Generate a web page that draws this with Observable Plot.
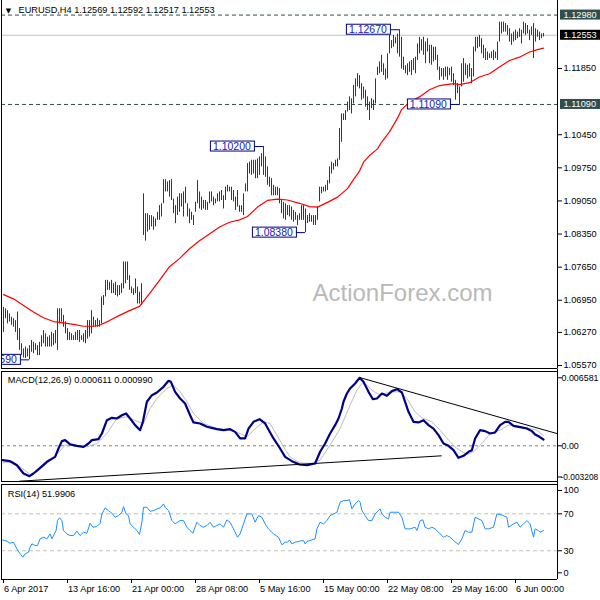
<!DOCTYPE html>
<html><head><meta charset="utf-8">
<script src="https://cdn.jsdelivr.net/npm/d3@7"></script>
<script src="https://cdn.jsdelivr.net/npm/@observablehq/plot@0.6"></script>
<style>
body{margin:0;background:#fff;}
#chart{width:600px;height:600px;position:relative;overflow:hidden;background:#fff;}
#chart svg{display:block;}
</style></head>
<body><div id="chart"></div>
<script>
// ---------- DATA ----------
const symbolTitle = "EURUSD,H4 1.12569 1.12592 1.12517 1.12553";
const barHigh = [
1.0680,1.0677,1.0673,1.0666,1.0659,1.0656,1.0652,1.0670,1.0635,1.0603,
1.0592,1.0596,1.0592,1.0599,1.0610,1.0606,1.0603,1.0599,1.0606,1.0620,
1.0631,1.0624,1.0617,1.0620,1.0627,1.0624,1.0631,1.0677,1.0677,1.0677,
1.0663,1.0649,1.0635,1.0627,1.0624,1.0620,1.0627,1.0631,1.0631,1.0620,
1.0624,1.0631,1.0652,1.0652,1.0673,1.0659,1.0652,1.0656,1.0652,1.0702,
1.0705,1.0737,1.0737,1.0733,1.0737,1.0730,1.0733,1.0726,1.0726,1.0730,
1.0776,1.0776,1.0776,1.0747,1.0723,1.0719,1.0740,1.0723,1.0712,1.0730,
1.0920,1.0878,1.0878,1.0874,1.0874,1.0871,1.0867,1.0881,1.0895,1.0899,
1.0950,1.0950,1.0945,1.0948,1.0950,1.0909,1.0895,1.0913,1.0920,1.0920,
1.0924,1.0934,1.0899,1.0888,1.0881,1.0874,1.0902,1.0948,1.0924,1.0913,
1.0906,1.0906,1.0902,1.0924,1.0924,1.0913,1.0909,1.0920,1.0924,1.0927,
1.0916,1.0934,1.0938,1.0934,1.0934,1.0927,1.0913,1.0927,1.0895,1.0895,
1.0920,1.0941,1.0984,1.0987,1.0991,1.0991,1.0991,1.0994,1.0998,1.1005,
1.1020,1.0998,1.0977,1.0955,1.0952,1.0938,1.0934,1.0934,1.0931,1.0906,
1.0902,1.0899,1.0895,1.0895,1.0892,1.0885,1.0881,1.0874,1.0878,1.0895,
1.0895,1.0888,1.0874,1.0878,1.0874,1.0874,1.0874,1.0893,1.0934,1.0934,
1.0934,1.0938,1.0948,1.0977,1.0987,1.0984,1.0991,1.0994,1.1058,1.1089,
1.1089,1.1096,1.1114,1.1125,1.1121,1.1149,1.1163,1.1174,1.1170,1.1153,
1.1146,1.1139,1.1125,1.1114,1.1121,1.1118,1.1163,1.1188,1.1199,1.1213,
1.1195,1.1184,1.1216,1.1255,1.1244,1.1255,1.1251,1.1258,1.1267,1.1251,
1.1209,1.1191,1.1195,1.1199,1.1202,1.1206,1.1209,1.1237,1.1251,1.1246,
1.1251,1.1241,1.1248,1.1234,1.1234,1.1230,1.1230,1.1213,1.1188,1.1185,
1.1185,1.1188,1.1188,1.1185,1.1188,1.1174,1.1160,1.1153,1.1146,1.1195,
1.1206,1.1195,1.1192,1.1195,1.1185,1.1230,1.1251,1.1251,1.1255,1.1248,
1.1234,1.1227,1.1220,1.1216,1.1220,1.1223,1.1220,1.1241,1.1283,1.1283,
1.1283,1.1280,1.1276,1.1269,1.1258,1.1262,1.1266,1.1262,1.1269,1.1266,
1.1283,1.1280,1.1276,1.1266,1.1273,1.1280,1.1269,1.1266,1.1262,1.1258,
1.12592];
const barLow = [
1.0627,1.0656,1.0645,1.0649,1.0642,1.0638,1.0627,1.0610,1.0589,1.0578,
1.0573,1.0572,1.0575,1.0569,1.0585,1.0582,1.0589,1.0578,1.0578,1.0596,
1.0603,1.0596,1.0596,1.0596,1.0596,1.0599,1.0603,1.0589,1.0645,1.0649,
1.0638,1.0624,1.0610,1.0610,1.0610,1.0610,1.0610,1.0610,1.0606,1.0610,
1.0606,1.0603,1.0613,1.0617,1.0624,1.0638,1.0638,1.0638,1.0638,1.0645,
1.0684,1.0702,1.0716,1.0716,1.0709,1.0709,1.0705,1.0702,1.0705,1.0709,
1.0719,1.0730,1.0737,1.0716,1.0709,1.0705,1.0709,1.0687,1.0687,1.0684,
1.0832,1.0820,1.0839,1.0843,1.0850,1.0843,1.0850,1.0864,1.0864,1.0871,
1.0899,1.0924,1.0924,1.0913,1.0906,1.0878,1.0857,1.0874,1.0881,1.0892,
1.0871,1.0899,1.0871,1.0857,1.0864,1.0853,1.0881,1.0899,1.0888,1.0885,
1.0888,1.0885,1.0885,1.0899,1.0903,1.0895,1.0899,1.0903,1.0903,1.0906,
1.0888,1.0906,1.0924,1.0924,1.0906,1.0903,1.0885,1.0892,1.0881,1.0881,
1.0874,1.0924,1.0924,1.0962,1.0959,1.0962,1.0952,1.0952,1.0959,1.0977,
1.0959,1.0955,1.0938,1.0934,1.0916,1.0916,1.0916,1.0916,1.0899,1.0878,
1.0867,1.0864,1.0874,1.0871,1.0864,1.0860,1.0864,1.0853,1.0864,1.0864,
1.0864,1.0838,1.0857,1.0860,1.0860,1.0853,1.0853,1.0864,1.0903,1.0920,
1.0924,1.0924,1.0927,1.0941,1.0962,1.0970,1.0977,1.0977,1.0991,1.1029,
1.1075,1.1075,1.1093,1.1096,1.1089,1.1110,1.1125,1.1146,1.1142,1.1118,
1.1121,1.1103,1.1096,1.1075,1.1100,1.1096,1.1110,1.1170,1.1174,1.1177,
1.1170,1.1160,1.1163,1.1216,1.1227,1.1230,1.1237,1.1216,1.1209,1.1184,
1.1181,1.1174,1.1170,1.1177,1.1170,1.1181,1.1174,1.1202,1.1216,1.1222,
1.1213,1.1195,1.1220,1.1195,1.1192,1.1199,1.1202,1.1181,1.1160,1.1167,
1.1160,1.1167,1.1160,1.1170,1.1156,1.1149,1.1118,1.1132,1.1109,1.1146,
1.1156,1.1170,1.1163,1.1167,1.1153,1.1167,1.1220,1.1227,1.1230,1.1216,
1.1206,1.1202,1.1202,1.1206,1.1206,1.1202,1.1206,1.1202,1.1241,1.1258,
1.1262,1.1262,1.1255,1.1241,1.1234,1.1241,1.1244,1.1248,1.1251,1.1237,
1.1258,1.1255,1.1258,1.1244,1.1255,1.1206,1.1241,1.1251,1.1244,1.1248,
1.12517];

// moving average (red), sampled along the bars
const maIdx = [0,5,10,15,20,25,30,35,40,45,48,53,58,63,68,73,78,83,88,93,98,103,108,113,118,122,127,132,137,142,148,153,157,162,167,172,175,178,180,183,187,189,193,197,199,203,208,213,218,225,228,233,238,243,248,253,258,263,267,270];
const maVal = [1.0707,1.0698,1.0684,1.0670,1.0658,1.0650,1.0647,1.0644,1.0640,1.0640,1.0642,1.0652,1.0663,1.0673,1.0682,1.0709,1.0737,1.0766,1.0783,1.0804,1.0821,1.0835,1.0850,1.0860,1.0865,1.0872,1.0892,1.0906,1.0909,1.0907,1.0900,1.0893,1.0892,1.0902,1.0913,1.0931,1.0950,1.0968,1.0987,1.1001,1.1015,1.1029,1.1051,1.1080,1.1098,1.1114,1.1125,1.1140,1.1149,1.1153,1.1151,1.1155,1.1167,1.1174,1.1188,1.1202,1.1209,1.1220,1.1225,1.1228];

// horizontal levels
const dashedLevels = [1.12980, 1.11090];
const lastPrice = [1.12553];

// price axis labels
const priceTicks = [1.11850, 1.10450, 1.09750, 1.09050, 1.08350, 1.07650, 1.06950, 1.06270, 1.05570];
const priceBoxDark = [1.12980, 1.11090];
const priceBoxBlack = [1.12553];

// swing labels
const annIdx = [198, 130, 151, 228, 13];
const annPrice = [1.12670, 1.10200, 1.08380, 1.11090, 1.05690];
const annText = ["1.12670", "1.10200", "1.08380", "1.11090", "1.05590"];

// MACD(12,26,9)
const macdIdx = [-0.5,3.3,6.7,10,13,15,18.3,21.7,25.8,27.5,29.2,30.8,33.3,36.7,40,42.5,44.2,47.5,49.2,51.7,54.2,56.7,59.2,61.3,63.3,65.8,68.3,69.7,71.7,74.2,76.7,80,82.5,83.7,85.8,88.3,90.8,93.3,95,98.3,101.7,106.7,110,113.3,115.8,118.3,120.8,122.5,125,128,130.8,135,138.3,140.8,144.2,148,151.7,155.8,158.3,160.8,163.3,165.8,167.5,169.2,170,171.7,173.3,175.8,178,180,182.5,184.7,186.7,189.2,191.7,194.2,196.7,199.2,200.8,202.5,205,207.5,210,212.5,215,217.5,220,222.5,225,227.5,230,232.5,234.2,235.8,238.3,240.8,243.3,245.8,248.3,250.8,252.5,255,258.3,261.7,264.2,265.8,268,270];
const macdVal = [-0.00139,-0.00149,-0.00188,-0.00268,-0.00294,-0.00268,-0.00213,-0.00155,-0.00107,-0.00026,
0.00045,0.00055,0.00013,0,-0.0001,0.00022,0.00055,0.00064,0.00119,0.00248,
0.00271,0.00264,0.00296,0.00313,0.00264,0.002,0.00151,0.00232,0.00426,0.0049,
0.00516,0.00571,0.00629,0.00619,0.00522,0.00458,0.00409,0.00296,0.00226,0.00216,
0.00184,0.00161,0.00151,0.00161,0.00135,0.00071,0.00071,0.00167,0.00232,0.00258,
0.00216,0.00071,-0.00026,-0.00107,-0.00149,-0.00181,-0.00188,-0.00171,-0.00058,0.00022,
0.00119,0.002,0.00264,0.00361,0.00426,0.00506,0.00555,0.00603,0.00658,0.00619,
0.00522,0.00451,0.00458,0.00506,0.00484,0.00529,0.00548,0.00516,0.00426,0.00329,
0.00232,0.00226,0.00248,0.002,0.00167,0.00103,0.00022,0,-0.00042,-0.00116,
-0.00097,-0.00058,-0.00042,0.00071,0.00151,0.00142,0.00119,0.00129,0.002,0.00232,
0.00232,0.00193,0.0018,0.00167,0.00142,0.00109,0.00087,0.000611];
const signalIdx = [-0.5,5,8.3,13.3,16.7,21.7,26.7,30.8,35,41.7,46.7,51.7,56.7,61.7,66.7,70,73.3,76.7,81.7,85,88.3,91.7,95,100,106.7,113.3,118.3,121.7,125,130,133.3,136.7,140,143.3,148,153.3,158.3,163.3,168.3,173.3,176.7,179.2,181.7,184.2,188.3,193.3,198.3,201.7,205.8,209.2,214.2,218.3,222.5,226.7,231.7,235,239.2,243.3,248.3,252.5,256.7,261.7,266.7,270];
const signalVal = [-0.00165,-0.00155,-0.00204,-0.00278,-0.00252,-0.00171,-0.00084,0.00006,0.00006,-0.0001,
0.00022,0.00119,0.00264,0.0028,0.00238,0.00216,0.00361,0.00458,0.00555,0.00587,
0.00522,0.00426,0.00313,0.00216,0.00167,0.00151,0.00119,0.00087,0.00151,0.00232,
0.00216,0.00103,-0.0001,-0.00107,-0.00165,-0.00171,-0.00139,0.00006,0.00167,0.00393,
0.00538,0.00603,0.00587,0.00538,0.0049,0.00522,0.00522,0.00458,0.00329,0.00271,
0.00232,0.00151,0.00055,-0.00026,-0.00084,-0.00058,0.00022,0.00119,0.00151,0.002,
0.00193,0.00174,0.00151,0.00099];
// trend lines drawn on the MACD window
const trendX1 = [8, 178];
const trendY1 = [-0.003426, 0.00661];
const trendX2 = [219.1, 277];
const trendY2 = [-0.000968, 0.00117];
const macdLabels = [0.006581, 0];
const macdMinLabel = [-0.003208];

// RSI(14)
const rsiIdx = [-0.5,1.7,3.3,5,6.7,8.3,9.7,10.8,12.5,13.3,14.2,15.8,17,18.3,20,21.7,23.3,24.2,25,26.3,27,28,29.2,30,31.7,33.3,35,36.7,38.3,40,41.7,43.3,44.7,46.7,48.3,49.2,50.8,52.5,54.2,55.8,57.5,59.2,60,61.3,62.5,63.3,65,66.7,68,69.2,70,71.7,73.3,75,76.7,78.3,80,80.8,82.5,84.2,85.8,88.3,90,91.7,93.3,94.7,96.7,98.3,100,101.7,103.3,105,106.7,108.3,110,111.7,113.3,115,117,118.3,120,121.7,124.2,125.8,127.5,129.2,130.8,132.5,135,137.5,139.2,140.8,142,143,144.2,145.8,148,150,150.8,151.7,153.3,155.8,156.7,158.3,160,161.7,163.3,165,166.7,168.3,170,171.7,173,174.2,175.8,177.5,178.3,179.2,180.8,182.5,184.2,185.8,187.5,188.3,189.2,190.8,192.5,193.3,195.8,197.5,199.2,200.8,203.3,205.8,206.7,208.3,209.7,210.8,212.5,214.2,215.8,216.7,218.3,220,221.7,223.3,225,227.5,229.2,230.8,232.5,234.2,235.8,237.5,239.2,240.8,242.5,245,246.7,249.2,251.7,252.5,255,256.7,258.3,260,261.7,263.3,265,265.8,267.5,268.3,270];
const rsiVal = [41.8,40.4,38.2,39.3,32.1,26.7,23.1,26.7,28.5,33.9,
37.5,35.7,35.7,42.9,44.7,42.9,48.3,42.9,46.5,51.9,
62.7,65.6,62.7,51.9,48.3,46.5,46.5,51.2,46.5,50.1,
49.0,59.8,55.5,56.2,59.8,69.9,76.4,73.5,70.6,66.3,
68.1,71.7,77.8,69.9,68.1,59.1,55.5,51.9,47.6,60.9,
77.1,77.1,72.8,73.5,75.3,76.4,80.7,77.1,73.5,62.7,
59.1,62.7,62.7,55.5,51.9,49.0,60.9,57.3,55.5,57.3,
60.9,55.5,57.3,59.1,55.5,63.4,60.9,53.7,44.7,48.3,
59.1,69.9,69.9,60.9,68.1,66.3,59.1,53.7,48.3,44.7,
36.4,39.3,39.3,41.8,37.5,39.3,40.4,41.1,37.5,40.0,
41.1,42.9,53.7,60.9,59.1,62.7,68.1,69.9,71.7,82.5,
84.3,84.3,85.4,75.3,80.7,84.3,82.5,73.5,68.1,62.7,
62.7,69.9,73.5,75.3,69.9,66.3,64.5,71.7,71.7,71.7,
66.3,53.7,53.7,55.5,51.9,62.7,63.4,55.5,53.7,55.5,
53.7,51.9,48.3,44.7,46.5,44.7,41.1,36.8,42.9,51.9,
50.1,50.1,66.3,64.5,62.7,53.7,53.7,55.5,69.9,68.8,
66.3,55.5,59.1,60.9,55.5,59.1,62.7,59.1,44.7,53.7,
51.9,50.1,51.99];
const rsiLevels = [70, 30];

// time axis
const dateIdx = [0, 32, 64, 96, 128, 160, 192, 224, 256];
const dateText = ["6 Apr 2017", "13 Apr 16:00", "21 Apr 00:00", "28 Apr 08:00", "5 May 16:00", "15 May 00:00", "22 May 08:00", "29 May 16:00", "6 Jun 00:00"];

// ---------- LAYOUT / STYLE ----------
const W = 600, ML = 1, MR = 43;
const XD = [-1, 277];
const PD = [1.05507, 1.13288];
const MD = [-0.003455, 0.00719];
const RD = [-1.08, 101.73];
const FONT = "'Liberation Sans', Arial, sans-serif";
const FS = 9.2;
const BAR = "#15405e";
const style = {fontFamily: FONT, fontSize: FS + "px", background: "white", overflow: "visible", color: "black"};

const bars = barHigh.map((h, i) => ({i, hi: h, lo: barLow[i]}));
const zip = (xs, ys) => xs.slice(0, Math.min(xs.length, ys.length)).map((x, k) => ({i: x, v: ys[k]}));
const ma = zip(maIdx, maVal);
const macd = zip(macdIdx, macdVal);
const sig = zip(signalIdx, signalVal);
const rsi = zip(rsiIdx, rsiVal);
const ann = annIdx.map((i, k) => ({i, p: annPrice[k], t: annText[k]}));
const trends = trendX1.map((x, k) => ({x1: x, y1: trendY1[k], x2: trendX2[k], y2: trendY2[k]}));
const dates = dateIdx.map((i, k) => ({i, t: dateText[k]}));
const fmt5 = d => d.toFixed(5);

const rightText = (data, o = {}) => Plot.text(data, {y: d => d, frameAnchor: "right", dx: 6, textAnchor: "start", lineAnchor: "middle", fill: "black", ...o});
const rightTick = (data, o = {}) => Plot.ruleY(data, {y: d => d, x1: XD[1], x2: XD[1] + 2.5, stroke: "black", ...o});

// box colours (used to find the labels that get a background box)
const BOX_DARK_TXT = "#fefefe", BOX_BLACK_TXT = "#fdfdfd", ANN_TXT = "#1a1ab8";

// ---------- PRICE WINDOW ----------
const price = Plot.plot({
  width: W, height: 369, marginLeft: ML, marginRight: MR, marginTop: 0, marginBottom: 1,
  x: {domain: XD, axis: null}, y: {domain: PD, axis: null}, style,
  marks: [
    Plot.ruleY(dashedLevels, {stroke: "#2f4f4f", strokeDasharray: "4,3"}),
    Plot.ruleY(lastPrice, {stroke: "#c0c0c0"}),
    Plot.text(["ActionForex.com"], {frameAnchor: "top-left", dx: 311, dy: 293, textAnchor: "start", lineAnchor: "middle", fontSize: 24, fontFamily: "'Liberation Sans', Arial, sans-serif", fill: "#b9b9b9"}),
    Plot.ruleX(bars, {x: "i", y1: "lo", y2: "hi", stroke: BAR, strokeWidth: 1}),
    Plot.line(ma, {x: "i", y: "v", stroke: "#ff0000", strokeWidth: 1.2}),
    Plot.ruleY(ann, {y: "p", x1: d => d.i - 4.8, x2: "i", stroke: "#000080", clip: "frame"}),
    Plot.text(ann, {x: d => d.i - 4.8, y: "p", text: "t", textAnchor: "end", dx: -3, lineAnchor: "middle", fill: ANN_TXT, fontSize: 10.5, clip: "frame"}),
    Plot.text(["\u25BC"], {frameAnchor: "top-left", dx: 7, dy: 10.5, textAnchor: "middle", lineAnchor: "middle", fontSize: 7, fontFamily: "'DejaVu Sans', sans-serif", fill: "black"}),
    Plot.text([symbolTitle], {frameAnchor: "top-left", dx: 17, dy: 10, textAnchor: "start", lineAnchor: "middle", fill: "black"}),
    Plot.ruleX([XD[0]], {stroke: "black"}),
    Plot.ruleY([PD[0]], {stroke: "black"}),
    Plot.ruleX([XD[1]], {y1: PD[0], y2: PD[1], stroke: "black"}),
    rightTick(priceTicks),
    rightText(priceTicks, {text: fmt5}),
    rightText(priceBoxDark, {text: fmt5, fill: BOX_DARK_TXT}),
    rightText(priceBoxBlack, {text: fmt5, fill: BOX_BLACK_TXT})
  ]
});

// ---------- MACD WINDOW ----------
const mpx = 110 / (MD[1] - MD[0]);
const macdPlot = Plot.plot({
  width: W, height: 113, marginLeft: ML, marginRight: MR, marginTop: 2, marginBottom: 1,
  x: {domain: XD, axis: null}, y: {domain: MD, axis: null}, style,
  marks: [
    Plot.ruleY([0], {stroke: "#808080", strokeDasharray: "3,3"}),
    Plot.line(sig, {x: "i", y: "v", stroke: "#bdbdbd", strokeWidth: 1}),
    Plot.line(macd, {x: "i", y: "v", stroke: "#00008b", strokeWidth: 2.2}),
    Plot.link(trends, {x1: "x1", y1: "y1", x2: "x2", y2: "y2", stroke: "black", strokeWidth: 1, clip: "frame"}),
    Plot.text(["MACD(12,26,9) 0.000611 0.000990"], {frameAnchor: "top-left", dx: 6.3, dy: 8.7, textAnchor: "start", lineAnchor: "middle", fill: "black"}),
    Plot.ruleX([XD[0]], {stroke: "black"}),
    Plot.ruleY([MD[0], MD[1]], {stroke: "black"}),
    Plot.ruleX([XD[1]], {y1: MD[1] + 2.5 / mpx, y2: MD[0] - 1 / mpx, stroke: "black"}),
    rightTick(macdLabels),
    rightText(macdLabels, {text: d => d === 0 ? "0.00" : d.toFixed(6), dx: 4, fontSize: 8.9}),
    rightTick(macdMinLabel, {dy: -2}),
    rightText(macdMinLabel, {text: d => d.toFixed(6), dx: 3, dy: -2, fontSize: 8.4})
  ]
});

// ---------- RSI WINDOW ----------
const rpx = 95 / (RD[1] - RD[0]);
const rsiPlot = Plot.plot({
  width: W, height: 118, marginLeft: ML, marginRight: MR, marginTop: 2, marginBottom: 21,
  x: {domain: XD, axis: null}, y: {domain: RD, axis: null}, style,
  marks: [
    Plot.ruleY(rsiLevels, {stroke: "#c0c0c0", strokeDasharray: "4,3"}),
    Plot.line(rsi, {x: "i", y: "v", stroke: "#1e90ff", strokeWidth: 1}),
    Plot.text(["RSI(14) 51.9906"], {frameAnchor: "top-left", dx: 6.3, dy: 9.3, textAnchor: "start", lineAnchor: "middle", fill: "black"}),
    Plot.ruleX([XD[0]], {stroke: "black"}),
    Plot.ruleY([RD[0], RD[1]], {stroke: "black"}),
    Plot.ruleX([XD[1]], {y1: RD[1] + 2.5 / rpx, y2: RD[0], stroke: "black"}),
    rightTick([100], {dy: 4.4}), rightText([100], {text: d => String(d), dy: 4.4}),
    rightTick(rsiLevels), rightText(rsiLevels, {text: d => String(d)}),
    rightTick([0], {dy: -5.7}), rightText([0], {text: d => String(d), dy: -5.7}),
    Plot.ruleX(dates, {x: "i", y1: RD[0], y2: RD[0] - 4 / rpx, stroke: "black"}),
    Plot.text(dates, {x: "i", text: "t", frameAnchor: "bottom", dy: 9.5, dx: 0.5, textAnchor: "start", lineAnchor: "middle", fill: "black"})
  ]
});

const root = document.getElementById("chart");
for (const s of [price, macdPlot, rsiPlot]) root.appendChild(s);

// boxes behind labelled prices
function boxify(svg) {
  const NS = "http://www.w3.org/2000/svg";
  const specs = [
    {txt: BOX_DARK_TXT, fill: "#2f4f4f", stroke: "none", l: 4, r: 3, white: true},
    {txt: BOX_BLACK_TXT, fill: "#000000", stroke: "none", l: 4, r: 3, white: true},
    {txt: ANN_TXT, fill: "#ffffff", stroke: "#000080", l: 3, r: 3}
  ];
  const texts = svg.querySelectorAll("text");
  texts.forEach(t => {
    const f = (t.getAttribute("fill") || t.parentNode.getAttribute("fill") || "").toLowerCase();
    const s = specs.find(s => s.txt === f);
    if (!s) return;
    const b = t.getBBox();
    const cy = b.y + b.height / 2;
    const r = document.createElementNS(NS, "rect");
    r.setAttribute("x", Math.round(b.x - s.l) + 0.5);
    r.setAttribute("y", Math.round(cy - 5.5) + 0.5);
    r.setAttribute("width", Math.round(b.width + s.l + s.r));
    r.setAttribute("height", 10);
    r.setAttribute("fill", s.fill);
    r.setAttribute("stroke", s.stroke);
    const tr = t.getAttribute("transform");
    if (tr) r.setAttribute("transform", tr);
    t.parentNode.insertBefore(r, t);
  });
}
for (const s of [price, macdPlot, rsiPlot]) boxify(s);
</script>
</body></html>
